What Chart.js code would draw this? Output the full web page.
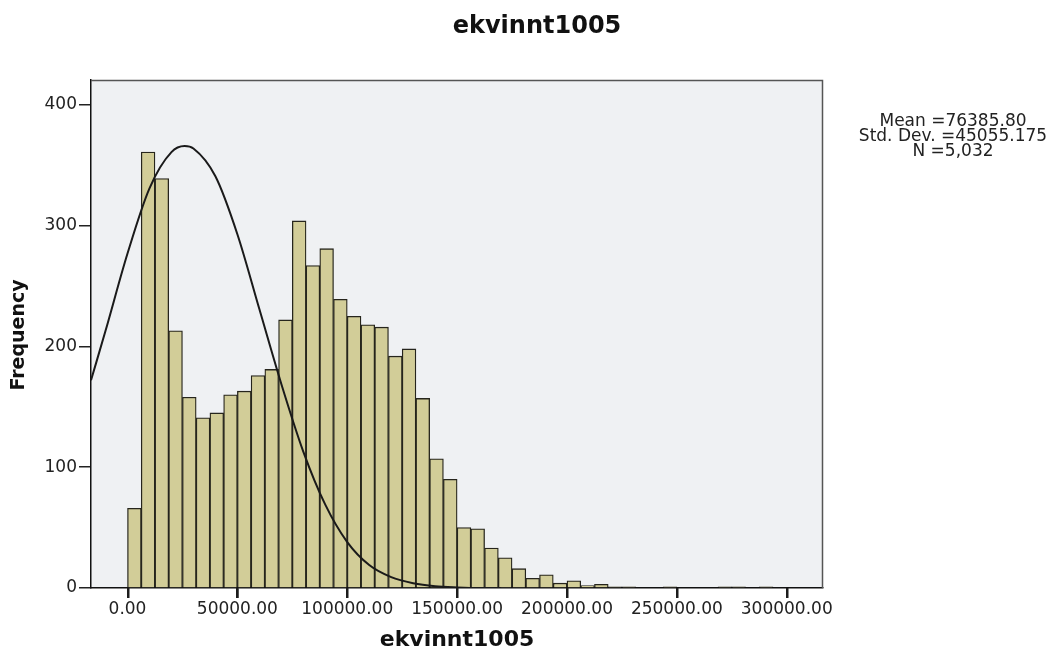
<!DOCTYPE html>
<html>
<head>
<meta charset="utf-8">
<script src="https://cdn.jsdelivr.net/npm/chart.js@4.4.1/dist/chart.umd.min.js"></script>
<style>
  html, body { margin: 0; padding: 0; background: #fff; }
  #wrap { width: 1054px; height: 655px; }
</style>
</head>
<body>
<div id="wrap"><canvas id="hist" width="1054" height="655"></canvas></div>
<script>
// histogram bins: 6250 wide, starting at 0
const binWidth = 6250;
const counts = [66, 361, 339, 213, 158, 141, 145, 160, 163, 176,
                181, 222, 304, 267, 281, 239, 225, 218, 216, 192,
                198, 157, 107, 90, 50, 49, 33, 25, 16, 8,
                11, 4, 6, 2, 3, 1, 1, 0, 0, 1,
                0, 0, 0, 1, 1, 0, 1];

// normal curve as drawn
const curveX = [-16610, -10000, 0, 10000, 20000, 26000, 30000, 40000, 50000, 60000,
                70000, 80000, 90000, 100000, 110000, 120000, 130000, 140000, 150000, 160000, 170000];
const curveY = [172, 213, 277, 331, 361, 366, 364, 341, 293, 231,
                169, 113, 69, 38, 19, 9, 4, 1.5, 0.5, 0, 0];

const xTicks = [0, 50000, 100000, 150000, 200000, 250000, 300000];
const yTicks = [0, 100, 200, 300, 400];

const chartTitle = "ekvinnt1005";
const xTitle = "ekvinnt1005";
const yTitle = "Frequency";
const statLines = ["Mean =76385.80", "Std. Dev. =45055.175", "N =5,032"];

const FONT = "'DejaVu Sans', 'Liberation Sans', Arial, sans-serif";

const bars = counts.map((c, i) => ({ x: binWidth * (i + 0.5), y: c }));
const curve = curveX.map((x, i) => ({ x: x, y: curveY[i] }));

const decor = {
    id: "decor",
    beforeDraw(chart) {
        const { ctx, chartArea: a } = chart;
        ctx.save();
        ctx.fillStyle = "#eff1f3";
        ctx.fillRect(a.left, a.top, a.right - a.left, a.bottom - a.top);
        ctx.restore();
    },
    afterDraw(chart) {
        const { ctx, chartArea: a } = chart;
        const xs = chart.scales.x;
        ctx.save();
        // top and right frame
        ctx.strokeStyle = "#555";
        ctx.lineWidth = 1.5;
        ctx.beginPath();
        ctx.moveTo(a.left, a.top + 0.5);
        ctx.lineTo(a.right - 0.5, a.top + 0.5);
        ctx.lineTo(a.right - 0.5, a.bottom);
        ctx.stroke();

        // x tick marks
        ctx.fillStyle = "#1c1c1c";
        xTicks.forEach(v => {
            const px = Math.round(xs.getPixelForValue(v));
            ctx.fillRect(px - 1, a.bottom, 2.5, 10);
        });

        ctx.fillStyle = "#111";
        ctx.textAlign = "center";
        ctx.textBaseline = "middle";

        ctx.font = "bold 24px " + FONT;
        ctx.fillText(chartTitle, 537, 27);

        ctx.font = "bold 22px " + FONT;
        ctx.fillText(xTitle, (a.left + a.right) / 2, 640);

        ctx.font = "bold 19px " + FONT;
        ctx.save();
        ctx.translate(19, 335);
        ctx.rotate(-Math.PI / 2);
        ctx.fillText(yTitle, 0, 0);
        ctx.restore();

        ctx.fillStyle = "#222";
        ctx.font = "17px " + FONT;
        statLines.forEach((s, i) => ctx.fillText(s, 953, 122 + i * 15));
        ctx.restore();
    }
};

new Chart(document.getElementById("hist"), {
    type: "bar",
    data: {
        datasets: [{
            type: "line",
            data: curve,
            borderColor: "#1a1a1a",
            borderWidth: 2,
            pointRadius: 0,
            cubicInterpolationMode: "monotone",
            fill: false,
            order: 0
        }, {
            type: "bar",
            data: bars,
            backgroundColor: "#d2cd98",
            borderColor: "#26251c",
            borderWidth: 1.3,
            barPercentage: 1,
            categoryPercentage: 1,
            order: 1
        }]
    },
    options: {
        responsive: false,
        animation: false,
        layout: { padding: { left: 0, top: 80, right: 231, bottom: 0 } },
        plugins: {
            legend: { display: false },
            tooltip: { enabled: false },
            title: { display: false }
        },
        scales: {
            x: {
                type: "linear",
                min: -16610,
                max: 316500,
                offset: false,
                afterBuildTicks: s => { s.ticks = xTicks.map(v => ({ value: v })); },
                afterFit: s => { s.height = 67; },
                grid: { offset: false, drawOnChartArea: false, tickLength: 10, color: "#222", lineWidth: 1.5 },
                border: { color: "#111", width: 1.5 },
                ticks: {
                    color: "#222",
                    padding: 1,
                    maxRotation: 0,
                    autoSkip: false,
                    font: { family: FONT, size: 17 },
                    callback: v => v.toFixed(2)
                }
            },
            y: {
                min: 0,
                max: 420.7,
                afterBuildTicks: s => { s.ticks = yTicks.map(v => ({ value: v })); },
                afterFit: s => { s.width = 91; },
                grid: { drawOnChartArea: false, tickLength: 12, color: "#222", lineWidth: 1.5 },
                border: { color: "#111", width: 1.5 },
                ticks: {
                    color: "#222",
                    padding: 2,
                    font: { family: FONT, size: 17 }
                }
            }
        }
    },
    plugins: [decor]
});
</script>
</body>
</html>
